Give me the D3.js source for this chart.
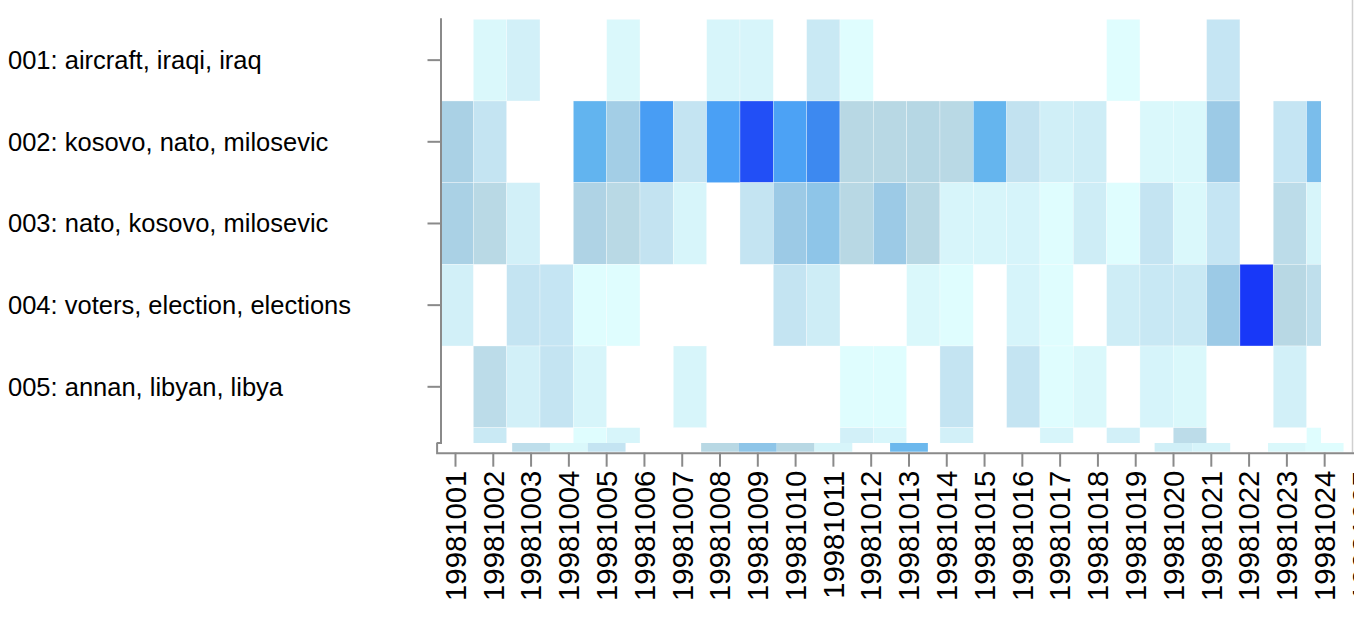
<!DOCTYPE html>
<html><head><meta charset="utf-8">
<script src="https://cdn.jsdelivr.net/npm/d3@7"></script>
<style>
html,body{margin:0;padding:0;background:#fff;overflow:hidden}
svg{display:block;font-family:"Liberation Sans", Arial, Helvetica, sans-serif}
</style></head><body>
<svg id="chart" width="1354" height="628"></svg>
<script>
// ---- data ----
const dates = ["19981001","19981002","19981003","19981004","19981005","19981006","19981007","19981008","19981009","19981010","19981011","19981012","19981013","19981014","19981015","19981016","19981017","19981018","19981019","19981020","19981021","19981022","19981023","19981024","19981025","19981026","19981027"];
const topicKeys = ["001","002","003","004","005","006"];
const topicLabels = ["001: aircraft, iraqi, iraq","002: kosovo, nato, milosevic","003: nato, kosovo, milosevic","004: voters, election, elections","005: annan, libyan, libya"];
const row001 = [null,0.06,0.12,null,null,0.06,null,null,0.08,0.08,null,0.18,0.02,null,null,null,null,null,null,null,0.02,null,null,0.21,null,null,null];
const row002 = [0.40,0.22,null,null,0.63,0.43,0.76,0.22,0.75,0.95,0.74,0.82,0.34,0.34,0.35,0.33,0.62,0.24,0.13,0.15,null,0.06,0.06,0.46,null,0.21,0.56];
const row003 = [0.40,0.33,0.12,null,0.38,0.33,0.23,0.08,null,0.22,0.46,0.50,0.34,0.46,0.34,0.08,0.08,0.09,0.02,0.15,0.02,0.22,0.06,0.21,null,0.30,0.08];
const row004 = [0.12,null,0.22,0.21,0.02,0.02,null,null,null,null,0.22,0.15,null,null,0.06,0.02,null,0.09,0.02,null,0.15,0.19,0.18,0.46,1.0,0.34,0.27];
const row005 = [null,0.30,0.12,0.22,0.08,null,null,0.08,null,null,null,null,0.02,0.02,null,0.22,null,0.22,0.02,0.06,null,0.09,0.06,null,null,0.12,null];
const row006 = [null,0.18,null,null,0.02,0.08,null,null,null,null,null,null,0.12,0.07,null,0.12,null,null,0.08,null,0.12,null,0.30,null,null,null,0.02];
const stripValues = [null,null,0.28,0.06,0.22,null,null,0.34,0.50,0.34,0.08,null,0.60,null,null,null,null,null,null,0.13,0.09,null,0.06,0.02,null,null,null];
const colorDomain = [0, 0.22, 0.34, 0.46, 0.63, 0.75, 0.82, 1];
const colorRange = ["#e2ffff","#c4e4f2","#b8d8e4","#9ccae6","#62b4ef","#4aa0f5","#3d89f0","#1838f8"];

// ---- layout ----
const W = 1354, H = 628;
const cellLeft = 440, cellStep = 33.33, cellTop = 19.3, rowStep = 81.67;
const clipRight = 1321, clipBottom = 443;
const axisLeftX = 436.6, axisStep = 37.79, axisY = 452.7;

const rows = [row001,row002,row003,row004,row005,row006];
const cells = [];
rows.forEach((r,i) => r.forEach((v,j) => { if (v !== null) cells.push({topic: topicKeys[i], date: dates[j], v}); }));
const strip = [];
stripValues.forEach((v,j) => { if (v !== null) strip.push({date: dates[j], v}); });

const color = d3.scaleLinear().domain(colorDomain).range(colorRange).interpolate(d3.interpolateRgb);
const xCell = d3.scaleBand().domain(dates).range([cellLeft, cellLeft + cellStep*dates.length]);
const xAxisScale = d3.scaleBand().domain(dates).range([axisLeftX, axisLeftX + axisStep*dates.length]);
const y = d3.scaleBand().domain(topicKeys).range([cellTop, cellTop + rowStep*topicKeys.length]);

const svg = d3.select("#chart");
svg.append("defs").append("clipPath").attr("id","plotclip")
  .append("rect").attr("x", cellLeft).attr("y", cellTop - 1).attr("width", clipRight - cellLeft).attr("height", clipBottom - cellTop + 1);

svg.append("g").attr("clip-path","url(#plotclip)")
  .selectAll("rect").data(cells).join("rect")
  .attr("x", d => xCell(d.date)).attr("y", d => y(d.topic))
  .attr("width", xCell.bandwidth()).attr("height", y.bandwidth())
  .attr("fill", d => color(d.v))
  .attr("stroke", "#fff").attr("stroke-opacity", 0.5).attr("stroke-width", 0.6);

svg.append("g").selectAll("rect").data(strip).join("rect")
  .attr("x", d => xAxisScale(d.date)).attr("y", clipBottom)
  .attr("width", xAxisScale.bandwidth()).attr("height", axisY - clipBottom - 1)
  .attr("fill", d => color(d.v));

// right border line
svg.append("line").attr("x1", W - 1.5).attr("x2", W - 1.5).attr("y1", 0).attr("y2", axisY)
  .attr("stroke", "#d0d0d0").attr("stroke-width", 1.5);

// y axis
const yAxisG = svg.append("g").attr("transform", `translate(441,0)`)
  .call(d3.axisLeft(y).tickValues(topicKeys.slice(0, topicLabels.length)).tickSize(13.5).tickSizeOuter(0).tickFormat(""));
yAxisG.select(".domain").attr("d", `M${axisLeftX - 441},${clipBottom}H0V${cellTop - 1}`);
yAxisG.selectAll("path,line").attr("stroke", "#8a8a8a").attr("stroke-width", 2).attr("fill","none");

svg.append("g").selectAll("text").data(topicLabels).join("text")
  .attr("x", 8).attr("y", (d,i) => y(topicKeys[i]) + y.bandwidth()/2)
  .attr("dy", "0.35em").attr("font-size", "25.5px").attr("fill", "#000")
  .text(d => d);

// x axis
const xAxisG = svg.append("g").attr("transform", `translate(0,${axisY})`)
  .call(d3.axisBottom(xAxisScale).tickSize(14).tickSizeOuter(-(axisY - clipBottom)));
xAxisG.selectAll("path,line").attr("stroke", "#8a8a8a").attr("stroke-width", 2).attr("fill","none");
xAxisG.selectAll("text")
  .attr("transform", "rotate(-90)")
  .attr("text-anchor", "end")
  .attr("x", -17.9).attr("y", 0).attr("dy", "0.35em")
  .attr("font-size", "29.3px").attr("font-family", '"Liberation Sans", Arial, sans-serif')
  .attr("fill", "#000");
</script>
</body></html>
